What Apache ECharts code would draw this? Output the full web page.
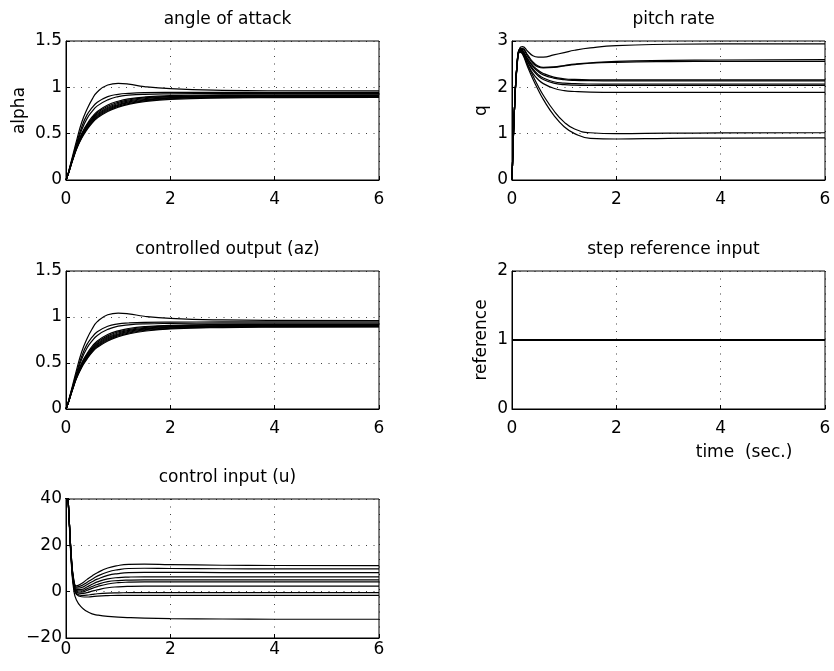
<!DOCTYPE html>
<html><head><meta charset="utf-8">
<script src="https://cdn.jsdelivr.net/npm/echarts@6/dist/echarts.min.js"></script>
<style>html,body{margin:0;padding:0;background:#fff}#c{width:834px;height:671px}</style>
</head><body><div id="c"></div>
<script>
// sample times (sec.)
const time = [0, 0.02, 0.05, 0.1, 0.15, 0.2, 0.3, 0.4, 0.5, 0.6, 0.8, 1.0, 1.2, 1.5, 2, 3, 4, 6];
const xTicks = [0, 2, 4, 6];

// angle of attack (alpha)
const alphaCurves = [
  [0, 0.03, 0.09, 0.2, 0.31, 0.42, 0.62, 0.76, 0.87, 0.95, 1.025, 1.043, 1.035, 1.008, 0.985, 0.968, 0.963, 0.962],
  [0, 0.03, 0.09, 0.19, 0.29, 0.39, 0.57, 0.7, 0.78, 0.84, 0.9, 0.925, 0.935, 0.942, 0.945, 0.946, 0.946, 0.946],
  [0, 0.03, 0.08, 0.18, 0.28, 0.37, 0.54, 0.66, 0.74, 0.8, 0.865, 0.9, 0.915, 0.925, 0.93, 0.933, 0.934, 0.934],
  [0, 0.03, 0.08, 0.18, 0.27, 0.36, 0.5, 0.6, 0.68, 0.74, 0.81, 0.85, 0.875, 0.895, 0.91, 0.918, 0.92, 0.92],
  [0, 0.03, 0.08, 0.18, 0.27, 0.355, 0.49, 0.59, 0.665, 0.725, 0.795, 0.838, 0.864, 0.886, 0.903, 0.912, 0.914, 0.915],
  [0, 0.03, 0.08, 0.175, 0.265, 0.35, 0.48, 0.58, 0.655, 0.712, 0.783, 0.826, 0.853, 0.877, 0.896, 0.906, 0.909, 0.91],
  [0, 0.03, 0.08, 0.175, 0.26, 0.345, 0.475, 0.57, 0.645, 0.7, 0.772, 0.815, 0.843, 0.869, 0.889, 0.9, 0.904, 0.905],
  [0, 0.03, 0.08, 0.17, 0.26, 0.34, 0.465, 0.56, 0.635, 0.69, 0.76, 0.805, 0.834, 0.861, 0.883, 0.895, 0.899, 0.9],
  [0, 0.03, 0.075, 0.17, 0.255, 0.335, 0.46, 0.55, 0.625, 0.68, 0.75, 0.795, 0.825, 0.853, 0.877, 0.89, 0.894, 0.895],
  [0, 0.03, 0.075, 0.165, 0.25, 0.33, 0.45, 0.54, 0.615, 0.67, 0.74, 0.785, 0.816, 0.845, 0.87, 0.885, 0.889, 0.892]
];
const alphaTicks = [0, 0.5, 1, 1.5];

// pitch rate (q)
const qCurves = [
  [0, 0.7, 1.6, 2.55, 2.85, 2.88, 2.78, 2.68, 2.65, 2.65, 2.7, 2.75, 2.8, 2.85, 2.9, 2.93, 2.94, 2.94],
  [0, 0.7, 1.6, 2.55, 2.83, 2.84, 2.7, 2.55, 2.46, 2.43, 2.44, 2.47, 2.5, 2.53, 2.56, 2.58, 2.59, 2.6],
  [0, 0.7, 1.6, 2.55, 2.82, 2.82, 2.67, 2.52, 2.44, 2.42, 2.43, 2.46, 2.49, 2.52, 2.54, 2.555, 2.56, 2.56],
  [0, 0.7, 1.6, 2.55, 2.82, 2.8, 2.62, 2.47, 2.37, 2.3, 2.22, 2.185, 2.17, 2.162, 2.16, 2.16, 2.16, 2.16],
  [0, 0.7, 1.6, 2.54, 2.81, 2.79, 2.6, 2.45, 2.34, 2.27, 2.2, 2.165, 2.15, 2.143, 2.14, 2.14, 2.14, 2.14],
  [0, 0.7, 1.6, 2.53, 2.8, 2.78, 2.57, 2.4, 2.28, 2.2, 2.12, 2.09, 2.078, 2.072, 2.07, 2.07, 2.07, 2.07],
  [0, 0.7, 1.6, 2.52, 2.79, 2.77, 2.55, 2.37, 2.25, 2.17, 2.09, 2.06, 2.048, 2.042, 2.04, 2.04, 2.04, 2.04],
  [0, 0.7, 1.6, 2.5, 2.77, 2.74, 2.5, 2.3, 2.17, 2.08, 1.98, 1.93, 1.91, 1.895, 1.89, 1.89, 1.89, 1.89],
  [0, 0.7, 1.6, 2.5, 2.78, 2.74, 2.48, 2.25, 2.03, 1.83, 1.5, 1.25, 1.1, 1.02, 1.0, 1.01, 1.015, 1.02],
  [0, 0.7, 1.6, 2.48, 2.76, 2.72, 2.44, 2.18, 1.95, 1.74, 1.4, 1.15, 1.0, 0.9, 0.885, 0.9, 0.905, 0.91]
];
const qTicks = [0, 1, 2, 3];

// controlled output (az) - visually the same family as alpha
const azCurves = alphaCurves;
const azTicks = [0, 0.5, 1, 1.5];

// step reference input
const refTime = [0, 6];
const refValues = [1, 1];
const refTicks = [0, 1, 2];

// control input (u)
const uCurves = [
  [40, 46, 36, 16, 5, 2.5, 3.5, 5.2, 6.8, 8.2, 10.2, 11.3, 11.8, 11.9, 11.7, 11.4, 11.3, 11.2],
  [40, 46, 36, 16, 4.6, 2.0, 2.6, 4.0, 5.4, 6.7, 8.5, 9.5, 10.0, 10.1, 10.0, 9.9, 9.8, 9.8],
  [40, 46, 36, 15.5, 4.2, 1.5, 1.8, 3.0, 4.3, 5.4, 7.0, 7.8, 8.2, 8.3, 8.3, 8.25, 8.2, 8.2],
  [40, 46, 36, 15.5, 3.8, 1.0, 1.0, 2.0, 3.2, 4.2, 5.5, 6.1, 6.3, 6.4, 6.4, 6.4, 6.4, 6.4],
  [40, 46, 36, 15, 3.4, 0.5, 0.3, 1.2, 2.2, 3.1, 4.3, 4.8, 5.0, 5.1, 5.1, 5.1, 5.1, 5.1],
  [40, 46, 36, 15, 3.0, 0.2, -0.2, 0.5, 1.4, 2.2, 3.3, 3.9, 4.1, 4.2, 4.2, 4.2, 4.2, 4.2],
  [40, 46, 36, 14.5, 2.6, -0.3, -0.8, -0.4, 0.2, 0.8, 1.7, 2.1, 2.3, 2.4, 2.4, 2.4, 2.4, 2.4],
  [40, 46, 36, 14.5, 2.2, -0.8, -1.6, -1.5, -1.2, -0.9, -0.6, -0.5, -0.45, -0.4, -0.4, -0.4, -0.4, -0.4],
  [40, 46, 36, 14, 1.8, -1.2, -2.2, -2.3, -2.1, -1.9, -1.7, -1.6, -1.6, -1.6, -1.6, -1.6, -1.6, -1.6],
  [40, 46, 35, 13, 0.5, -3.6, -6.8, -8.5, -9.6, -10.1, -10.7, -11.0, -11.2, -11.4, -11.6, -11.8, -11.9, -11.9]
];
const uTicks = [-20, 0, 20, 40];

const FONT = '"DejaVu Sans", sans-serif';
const FS = 17;
const grids = [
  {left: 66, top: 41, width: 313, height: 139},
  {left: 512, top: 41, width: 313, height: 139},
  {left: 66, top: 271, width: 313, height: 138},
  {left: 512, top: 271, width: 313, height: 138},
  {left: 66, top: 499, width: 313, height: 139}
];
const titles = ['angle of attack', 'pitch rate', 'controlled output (az)', 'step reference input', 'control input (u)'];
const yNames = ['alpha', 'q', '', 'reference', ''];
const yTickSets = [alphaTicks, qTicks, azTicks, refTicks, uTicks];
const yGaps = [38, 22, 38, 22, 38];
const xMargins = [11, 11, 11, 11, 3];

const grid = grids.map(g => Object.assign({show: true, borderColor: '#000', borderWidth: 1, backgroundColor: '#fff', containLabel: false}, g));
const dotted = {show: true, lineStyle: {color: '#000', width: 1, type: [1, 6.5], opacity: 0.75}};
const xAxis = grids.map((g, i) => ({
  gridIndex: i, type: 'value', min: xTicks[0], max: xTicks[xTicks.length - 1], interval: xTicks[1] - xTicks[0],
  axisLine: {show: true, onZero: false, lineStyle: {color: '#000', width: 1}},
  axisTick: {show: true, inside: true, length: 4, lineStyle: {color: '#000'}},
  axisLabel: {color: '#000', fontSize: FS, fontFamily: FONT, margin: xMargins[i]},
  splitLine: dotted
}));
const yAxis = grids.map((g, i) => {
  const t = yTickSets[i];
  return {
    gridIndex: i, type: 'value', min: t[0], max: t[t.length - 1], interval: t[1] - t[0],
    name: yNames[i], nameLocation: 'middle', nameGap: yGaps[i],
    nameTextStyle: {color: '#000', fontSize: FS, fontFamily: FONT},
    axisLine: {show: true, onZero: false, lineStyle: {color: '#000', width: 1}},
    axisTick: {show: true, inside: true, length: 4, lineStyle: {color: '#000'}},
    axisLabel: {color: '#000', fontSize: FS, fontFamily: FONT, margin: 4,
      formatter: v => String(v).replace('-', '\u2212')},
    splitLine: dotted
  };
});
const title = grids.map((g, i) => ({
  text: titles[i], left: g.left + g.width / 2, top: g.top - 35, textAlign: 'center',
  textStyle: {color: '#000', fontSize: FS, fontWeight: 'normal', fontFamily: FONT}
}));

function pairs(tt, vals) { return tt.map((t, k) => [t, vals[k]]); }
function family(curves, idx) {
  return curves.map(c => ({
    type: 'line', xAxisIndex: idx, yAxisIndex: idx, data: pairs(time, c),
    showSymbol: false, smooth: 0.5, clip: true,
    lineStyle: {color: '#000', width: 1.2}, silent: true
  }));
}
const series = [].concat(
  family(alphaCurves, 0),
  family(qCurves, 1),
  family(azCurves, 2),
  [{type: 'line', xAxisIndex: 3, yAxisIndex: 3, data: pairs(refTime, refValues), showSymbol: false,
    lineStyle: {color: '#000', width: 2}, silent: true}],
  family(uCurves, 4)
);

const chart = echarts.init(document.getElementById('c'), null, {renderer: 'canvas'});
chart.setOption({
  animation: false,
  backgroundColor: '#fff',
  title, grid, xAxis, yAxis, series,
  graphic: [{type: 'text', x: 744, y: 453,
    style: {text: 'time  (sec.)', fill: '#000', font: FS + 'px ' + FONT, align: 'center', verticalAlign: 'middle'}}]
});
</script></body></html>
